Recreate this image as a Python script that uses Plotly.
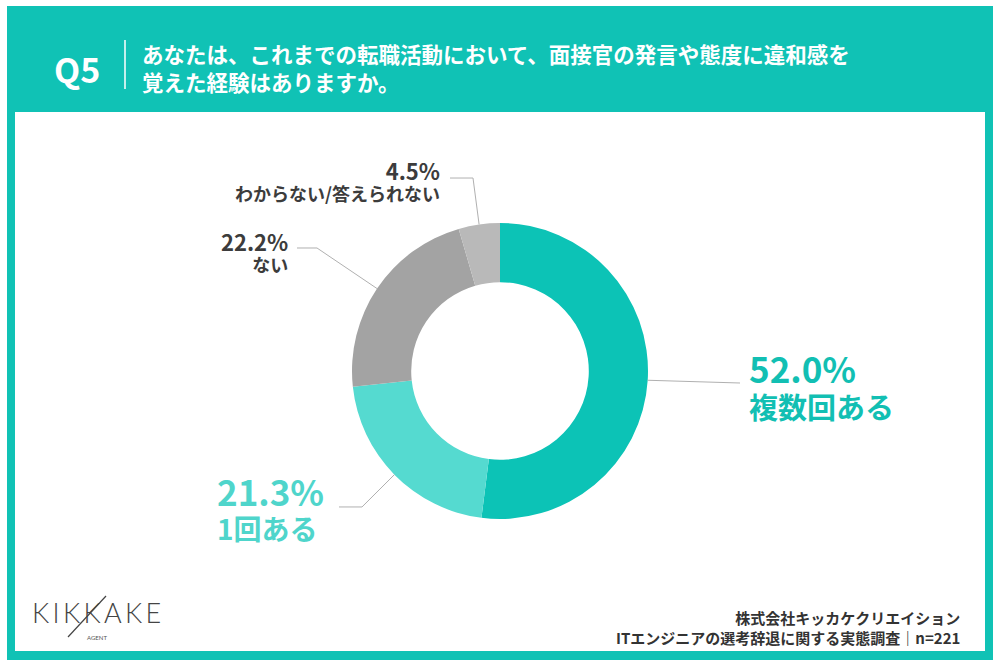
import math
import plotly.graph_objects as go

# survey answers, clockwise from 12 o'clock
labels = ["複数回ある", "1回ある", "ない", "わからない/答えられない"]
values = [52.0, 21.3, 22.2, 4.5]
colors = ["#0cc3b6", "#55dad0", "#a3a3a3", "#b9b9b9"]
text_colors = ["#12bfb3", "#4fd5cb", "#3c3c3c", "#3c3c3c"]

question = ["あなたは、これまでの転職活動において、面接官の発言や態度に違和感を",
            "覚えた経験はありますか。"]
source = ["株式会社キッカケクリエイション",
          "ITエンジニアの選考辞退に関する実態調査｜n=221"]

W, H = 1000, 669
TEAL = "#10c2b5"
JP = "Noto Sans CJK JP"

# donut placement in pixels
cx, cy, R = 500, 371, 148


def px(x):
    return x / W


def py(y):
    return 1 - y / H


fig = go.Figure(go.Pie(
    labels=labels,
    values=values,
    marker=dict(colors=colors, line=dict(width=0)),
    sort=False,
    direction="clockwise",
    rotation=0,
    hole=0.6,
    textinfo="none",
    hoverinfo="label+percent",
    showlegend=False,
    domain=dict(x=[px(cx - R), px(cx + R)], y=[py(cy + R), py(cy - R)]),
))

shapes = [
    dict(type="rect", xref="paper", yref="paper", x0=px(7), x1=px(993),
         y0=py(660), y1=py(6), fillcolor=TEAL, line_width=0, layer="below"),
    dict(type="rect", xref="paper", yref="paper", x0=px(15), x1=px(985),
         y0=py(651), y1=py(112), fillcolor="white", line_width=0, layer="below"),
    dict(type="line", xref="paper", yref="paper", x0=px(125), x1=px(125),
         y0=py(40), y1=py(89), line=dict(color="white", width=1.5)),
    # logo slash
    dict(type="line", xref="paper", yref="paper", x0=px(68), x1=px(106),
         y0=py(637), y1=py(596), line=dict(color="#444444", width=1.2)),
]

# leader lines: start at the middle of each slice's outer edge
elbows = [
    [(740, 383)],
    [(362, 507), (339, 507)],
    [(317, 248), (297, 248)],
    [(473, 178), (450, 178)],
]
total = sum(values)
cum = 0
for v, pts in zip(values, elbows):
    mid = (cum + v / 2) / total * 2 * math.pi
    cum += v
    sx = cx + R * math.sin(mid)
    sy = cy - R * math.cos(mid)
    path = [(sx, sy)] + pts
    d = "M " + " L ".join(f"{px(x):.4f},{py(y):.4f}" for x, y in path)
    shapes.append(dict(type="path", xref="paper", yref="paper", path=d,
                       line=dict(color="#b0b0b0", width=1)))

annotations = []


def note(text, x, y, size, color, anchor="left", family=JP, weight="bold"):
    annotations.append(dict(
        text=text, x=px(x), y=py(y), xref="paper", yref="paper",
        xanchor=anchor, yanchor="middle", align=anchor if anchor != "center" else "center",
        showarrow=False,
        font=dict(family=family, size=size, color=color, weight=weight)))


def two_line(top, bottom, s_top, s_bottom):
    return (f"<span style='font-size:{s_top}px'>{top}</span><br>"
            f"<span style='font-size:{s_bottom}px'>{bottom}</span>")


note("Q5", 52, 68, 34, "white")
note("<br>".join(question), 140, 67, 21.5, "white")

pct = [f"{v:.1f}%" for v in values]
note(two_line(pct[0], labels[0], 35, 29), 747, 384, 28, text_colors[0])
note(two_line(pct[1], labels[1], 35, 28), 215, 506, 26, text_colors[1])
note(two_line(pct[2], labels[2], 22, 18), 290, 251, 16, text_colors[2], anchor="right")
note(two_line(pct[3], labels[3], 22, 18), 442, 180, 16, text_colors[3], anchor="right")

note("<br>".join(source), 962, 627, 15, "#333333", anchor="right")

note("K\u2009I\u2009K\u2009K\u2009A\u2009K\u2009E", 30, 612, 27, "#444444",
     family="Lato", weight=300)
note("AGENT", 97, 637, 6, "#555555", anchor="center", family="Lato", weight="normal")

fig.update_layout(
    width=W, height=H,
    margin=dict(l=0, r=0, t=0, b=0),
    paper_bgcolor="white",
    plot_bgcolor="white",
    shapes=shapes,
    annotations=annotations,
)

fig.write_html("out.html", config={"displayModeBar": False},
               post_script="document.body.style.margin='0';")
